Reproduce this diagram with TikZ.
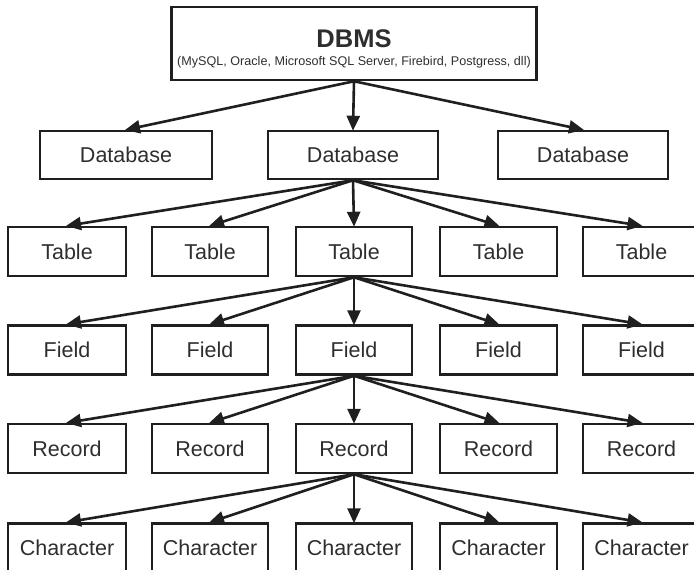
\documentclass[tikz,border=0pt]{standalone}
\usepackage{fontspec}
\setmainfont{Liberation Sans}
\usetikzlibrary{arrows.meta}
\begin{document}
\begin{tikzpicture}[x=1pt,y=-1pt,
  box/.style={draw=black!88,line width=2.5pt,rectangle,inner sep=0pt,minimum height=48pt,font=\fontsize{21.5}{23}\selectfont,text=black!82},
  conn/.style={draw=black!88,line width=2.6pt,-{Triangle[length=15pt,width=13pt]},shorten >=-1pt},
]
\useasboundingbox (0,0) rectangle (694,570);
\clip (0,0) rectangle (694,570);
% DBMS
\node[draw=black!88,line width=2.5pt,rectangle,inner sep=0pt,minimum width=365pt,minimum height=73pt] (dbms) at (354,43.5) {};
\node[font=\fontsize{25.5}{27}\bfseries\selectfont,text=black!82] at (354,39) {DBMS};
\node[font=\fontsize{12.6}{14}\selectfont,text=black!82] at (354,62) {(MySQL, Oracle, Microsoft SQL Server, Firebird, Postgress, dll)};
% Databases
\node[box,minimum width=172pt] (d1) at (126,155) {Database};
\node[box,minimum width=170pt] (d2) at (353,155) {Database};
\node[box,minimum width=170pt] (d3) at (583,155) {Database};
% rows
\foreach \r/\y/\t in {t/251.5/Table,f/350/Field,r/448.5/Record}{
  \node[box,minimum width=118pt,minimum height=49pt] (\r1) at (67,\y) {\t};
  \node[box,minimum width=116pt,minimum height=49pt] (\r2) at (210,\y) {\t};
  \node[box,minimum width=116pt,minimum height=49pt] (\r3) at (354,\y) {\t};
  \node[box,minimum width=117pt,minimum height=49pt] (\r4) at (498.5,\y) {\t};
  \node[box,minimum width=117pt,minimum height=49pt] (\r5) at (641.5,\y) {\t};
}
\node[box,minimum width=118pt,minimum height=49pt] (c1) at (67,548) {Character};
\node[box,minimum width=116pt,minimum height=49pt] (c2) at (210,548) {Character};
\node[box,minimum width=116pt,minimum height=49pt] (c3) at (354,548) {Character};
\node[box,minimum width=117pt,minimum height=49pt] (c4) at (498.5,548) {Character};
\node[box,minimum width=117pt,minimum height=49pt] (c5) at (641.5,548) {Character};
% connectors
\foreach \c in {d1,d2,d3} \draw[conn] (dbms.south) -- (\c.north);
\foreach \c in {t1,t2,t3,t4,t5} \draw[conn] (d2.south) -- (\c.north);
\foreach \c in {f1,f2,f3,f4,f5} \draw[conn] (t3.south) -- (\c.north);
\foreach \c in {r1,r2,r3,r4,r5} \draw[conn] (f3.south) -- (\c.north);
\foreach \c in {c1,c2,c3,c4,c5} \draw[conn] (r3.south) -- (\c.north);
\end{tikzpicture}
\end{document}
